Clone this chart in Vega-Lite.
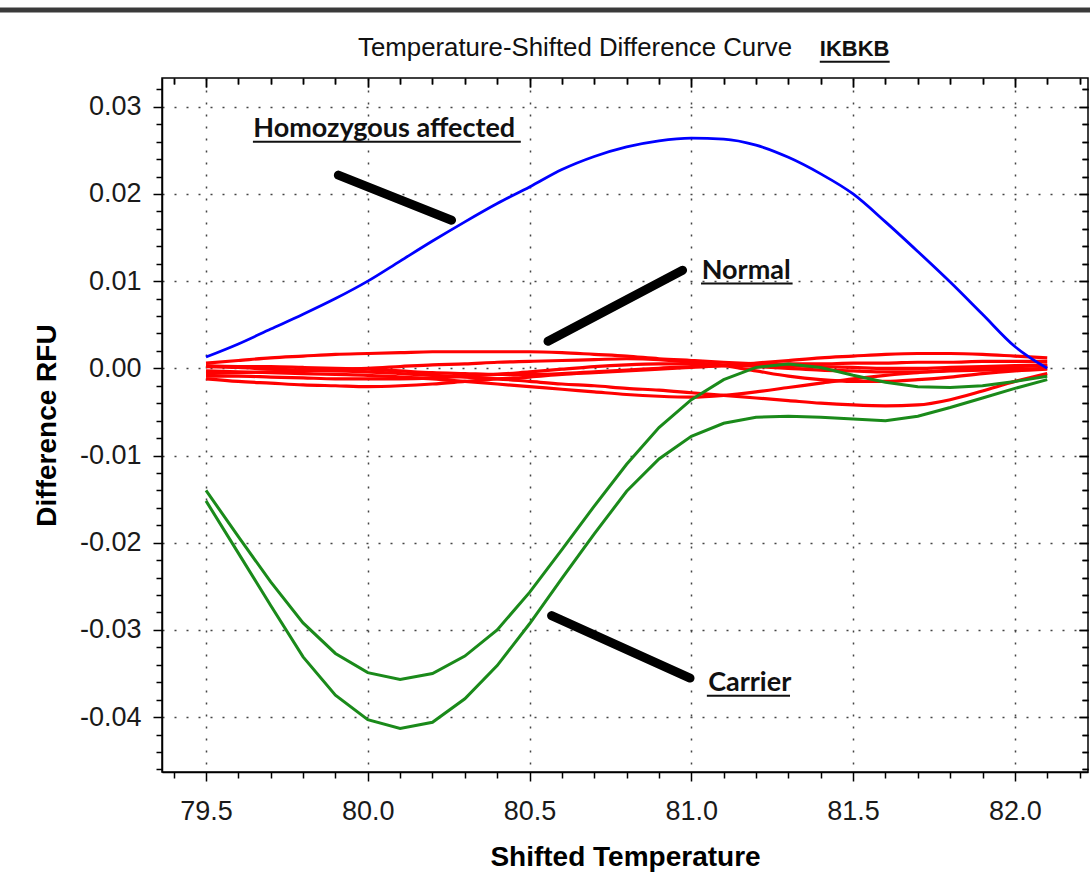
{
  "$schema": "https://vega.github.io/schema/vega-lite/v6.json",
  "width": 926,
  "height": 694,
  "autosize": {"type": "none"},
  "padding": {"left": 162, "top": 78, "right": 2, "bottom": 102},
  "background": "white",
  "config": {"view": {"stroke": "black", "strokeWidth": 1.5}},
  "datasets": {
    "curves": [
      {"s":"H","g":"Homozygous","t":79.5,"v":0.0013},{"s":"H","g":"Homozygous","t":79.6,"v":0.0028},{"s":"H","g":"Homozygous","t":79.7,"v":0.0045},{"s":"H","g":"Homozygous","t":79.8,"v":0.0062},{"s":"H","g":"Homozygous","t":79.9,"v":0.0080},{"s":"H","g":"Homozygous","t":80.0,"v":0.0100},{"s":"H","g":"Homozygous","t":80.1,"v":0.0123},{"s":"H","g":"Homozygous","t":80.2,"v":0.0146},{"s":"H","g":"Homozygous","t":80.3,"v":0.0168},{"s":"H","g":"Homozygous","t":80.4,"v":0.0189},{"s":"H","g":"Homozygous","t":80.5,"v":0.0208},{"s":"H","g":"Homozygous","t":80.6,"v":0.0228},{"s":"H","g":"Homozygous","t":80.7,"v":0.0243},{"s":"H","g":"Homozygous","t":80.8,"v":0.0254},{"s":"H","g":"Homozygous","t":80.9,"v":0.0261},{"s":"H","g":"Homozygous","t":81.0,"v":0.0264},{"s":"H","g":"Homozygous","t":81.1,"v":0.0263},{"s":"H","g":"Homozygous","t":81.2,"v":0.0256},{"s":"H","g":"Homozygous","t":81.3,"v":0.0242},{"s":"H","g":"Homozygous","t":81.4,"v":0.0223},{"s":"H","g":"Homozygous","t":81.5,"v":0.0200},{"s":"H","g":"Homozygous","t":81.6,"v":0.0168},{"s":"H","g":"Homozygous","t":81.7,"v":0.0134},{"s":"H","g":"Homozygous","t":81.8,"v":0.0099},{"s":"H","g":"Homozygous","t":81.9,"v":0.0062},{"s":"H","g":"Homozygous","t":82.0,"v":0.0025},{"s":"H","g":"Homozygous","t":82.1,"v":0.0000},

      {"s":"G1","g":"Carrier","t":79.5,"v":-0.0140},{"s":"G1","g":"Carrier","t":79.6,"v":-0.0193},{"s":"G1","g":"Carrier","t":79.7,"v":-0.0245},{"s":"G1","g":"Carrier","t":79.8,"v":-0.0292},{"s":"G1","g":"Carrier","t":79.9,"v":-0.0327},{"s":"G1","g":"Carrier","t":80.0,"v":-0.0349},{"s":"G1","g":"Carrier","t":80.1,"v":-0.0357},{"s":"G1","g":"Carrier","t":80.2,"v":-0.0350},{"s":"G1","g":"Carrier","t":80.3,"v":-0.0330},{"s":"G1","g":"Carrier","t":80.4,"v":-0.0300},{"s":"G1","g":"Carrier","t":80.5,"v":-0.0257},{"s":"G1","g":"Carrier","t":80.6,"v":-0.0208},{"s":"G1","g":"Carrier","t":80.7,"v":-0.0158},{"s":"G1","g":"Carrier","t":80.8,"v":-0.0110},{"s":"G1","g":"Carrier","t":80.9,"v":-0.0068},{"s":"G1","g":"Carrier","t":81.0,"v":-0.0036},{"s":"G1","g":"Carrier","t":81.1,"v":-0.0013},{"s":"G1","g":"Carrier","t":81.2,"v":0.0001},{"s":"G1","g":"Carrier","t":81.3,"v":0.0005},{"s":"G1","g":"Carrier","t":81.4,"v":0.0001},{"s":"G1","g":"Carrier","t":81.5,"v":-0.0008},{"s":"G1","g":"Carrier","t":81.6,"v":-0.0016},{"s":"G1","g":"Carrier","t":81.7,"v":-0.0021},{"s":"G1","g":"Carrier","t":81.8,"v":-0.0022},{"s":"G1","g":"Carrier","t":81.9,"v":-0.0020},{"s":"G1","g":"Carrier","t":82.0,"v":-0.0015},{"s":"G1","g":"Carrier","t":82.1,"v":-0.0009},

      {"s":"G2","g":"Carrier","t":79.5,"v":-0.0152},{"s":"G2","g":"Carrier","t":79.6,"v":-0.0212},{"s":"G2","g":"Carrier","t":79.7,"v":-0.0272},{"s":"G2","g":"Carrier","t":79.8,"v":-0.0331},{"s":"G2","g":"Carrier","t":79.9,"v":-0.0375},{"s":"G2","g":"Carrier","t":80.0,"v":-0.0403},{"s":"G2","g":"Carrier","t":80.1,"v":-0.0413},{"s":"G2","g":"Carrier","t":80.2,"v":-0.0406},{"s":"G2","g":"Carrier","t":80.3,"v":-0.0379},{"s":"G2","g":"Carrier","t":80.4,"v":-0.0341},{"s":"G2","g":"Carrier","t":80.5,"v":-0.0293},{"s":"G2","g":"Carrier","t":80.6,"v":-0.0241},{"s":"G2","g":"Carrier","t":80.7,"v":-0.0190},{"s":"G2","g":"Carrier","t":80.8,"v":-0.0141},{"s":"G2","g":"Carrier","t":80.9,"v":-0.0104},{"s":"G2","g":"Carrier","t":81.0,"v":-0.0078},{"s":"G2","g":"Carrier","t":81.1,"v":-0.0063},{"s":"G2","g":"Carrier","t":81.2,"v":-0.0056},{"s":"G2","g":"Carrier","t":81.3,"v":-0.0055},{"s":"G2","g":"Carrier","t":81.4,"v":-0.0056},{"s":"G2","g":"Carrier","t":81.5,"v":-0.0058},{"s":"G2","g":"Carrier","t":81.6,"v":-0.0060},{"s":"G2","g":"Carrier","t":81.7,"v":-0.0055},{"s":"G2","g":"Carrier","t":81.8,"v":-0.0045},{"s":"G2","g":"Carrier","t":81.9,"v":-0.0034},{"s":"G2","g":"Carrier","t":82.0,"v":-0.0023},{"s":"G2","g":"Carrier","t":82.1,"v":-0.0013},

      {"s":"R1","g":"Normal","t":79.5,"v":0.0006},{"s":"R1","g":"Normal","t":79.6,"v":0.0009},{"s":"R1","g":"Normal","t":79.7,"v":0.0012},{"s":"R1","g":"Normal","t":79.8,"v":0.0014},{"s":"R1","g":"Normal","t":79.9,"v":0.0016},{"s":"R1","g":"Normal","t":80.0,"v":0.0017},{"s":"R1","g":"Normal","t":80.1,"v":0.0018},{"s":"R1","g":"Normal","t":80.2,"v":0.0019},{"s":"R1","g":"Normal","t":80.3,"v":0.0019},{"s":"R1","g":"Normal","t":80.4,"v":0.0019},{"s":"R1","g":"Normal","t":80.5,"v":0.0019},{"s":"R1","g":"Normal","t":80.6,"v":0.0018},{"s":"R1","g":"Normal","t":80.7,"v":0.0016},{"s":"R1","g":"Normal","t":80.8,"v":0.0014},{"s":"R1","g":"Normal","t":80.9,"v":0.0011},{"s":"R1","g":"Normal","t":81.0,"v":0.0009},{"s":"R1","g":"Normal","t":81.1,"v":0.0007},{"s":"R1","g":"Normal","t":81.2,"v":0.0005},{"s":"R1","g":"Normal","t":81.3,"v":0.0003},{"s":"R1","g":"Normal","t":81.4,"v":0.0002},{"s":"R1","g":"Normal","t":81.5,"v":0.0001},{"s":"R1","g":"Normal","t":81.6,"v":0.0000},{"s":"R1","g":"Normal","t":81.7,"v":0.0000},{"s":"R1","g":"Normal","t":81.8,"v":0.0001},{"s":"R1","g":"Normal","t":81.9,"v":0.0002},{"s":"R1","g":"Normal","t":82.0,"v":0.0003},{"s":"R1","g":"Normal","t":82.1,"v":0.0004},

      {"s":"R2","g":"Normal","t":79.5,"v":-0.0003},{"s":"R2","g":"Normal","t":79.6,"v":-0.0004},{"s":"R2","g":"Normal","t":79.7,"v":-0.0005},{"s":"R2","g":"Normal","t":79.8,"v":-0.0006},{"s":"R2","g":"Normal","t":79.9,"v":-0.0007},{"s":"R2","g":"Normal","t":80.0,"v":-0.0008},{"s":"R2","g":"Normal","t":80.1,"v":-0.0010},{"s":"R2","g":"Normal","t":80.2,"v":-0.0012},{"s":"R2","g":"Normal","t":80.3,"v":-0.0015},{"s":"R2","g":"Normal","t":80.4,"v":-0.0018},{"s":"R2","g":"Normal","t":80.5,"v":-0.0021},{"s":"R2","g":"Normal","t":80.6,"v":-0.0024},{"s":"R2","g":"Normal","t":80.7,"v":-0.0027},{"s":"R2","g":"Normal","t":80.8,"v":-0.0030},{"s":"R2","g":"Normal","t":80.9,"v":-0.0032},{"s":"R2","g":"Normal","t":81.0,"v":-0.0033},{"s":"R2","g":"Normal","t":81.1,"v":-0.0031},{"s":"R2","g":"Normal","t":81.2,"v":-0.0027},{"s":"R2","g":"Normal","t":81.3,"v":-0.0022},{"s":"R2","g":"Normal","t":81.4,"v":-0.0017},{"s":"R2","g":"Normal","t":81.5,"v":-0.0012},{"s":"R2","g":"Normal","t":81.6,"v":-0.0008},{"s":"R2","g":"Normal","t":81.7,"v":-0.0005},{"s":"R2","g":"Normal","t":81.8,"v":-0.0002},{"s":"R2","g":"Normal","t":81.9,"v":0.0000},{"s":"R2","g":"Normal","t":82.0,"v":0.0002},{"s":"R2","g":"Normal","t":82.1,"v":0.0003},

      {"s":"R3","g":"Normal","t":79.5,"v":-0.0012},{"s":"R3","g":"Normal","t":79.6,"v":-0.0015},{"s":"R3","g":"Normal","t":79.7,"v":-0.0017},{"s":"R3","g":"Normal","t":79.8,"v":-0.0019},{"s":"R3","g":"Normal","t":79.9,"v":-0.0020},{"s":"R3","g":"Normal","t":80.0,"v":-0.0021},{"s":"R3","g":"Normal","t":80.1,"v":-0.0020},{"s":"R3","g":"Normal","t":80.2,"v":-0.0018},{"s":"R3","g":"Normal","t":80.3,"v":-0.0015},{"s":"R3","g":"Normal","t":80.4,"v":-0.0012},{"s":"R3","g":"Normal","t":80.5,"v":-0.0010},{"s":"R3","g":"Normal","t":80.6,"v":-0.0007},{"s":"R3","g":"Normal","t":80.7,"v":-0.0005},{"s":"R3","g":"Normal","t":80.8,"v":-0.0003},{"s":"R3","g":"Normal","t":80.9,"v":-0.0001},{"s":"R3","g":"Normal","t":81.0,"v":0.0001},{"s":"R3","g":"Normal","t":81.1,"v":0.0003},{"s":"R3","g":"Normal","t":81.2,"v":0.0006},{"s":"R3","g":"Normal","t":81.3,"v":0.0009},{"s":"R3","g":"Normal","t":81.4,"v":0.0012},{"s":"R3","g":"Normal","t":81.5,"v":0.0014},{"s":"R3","g":"Normal","t":81.6,"v":0.0016},{"s":"R3","g":"Normal","t":81.7,"v":0.0017},{"s":"R3","g":"Normal","t":81.8,"v":0.0017},{"s":"R3","g":"Normal","t":81.9,"v":0.0016},{"s":"R3","g":"Normal","t":82.0,"v":0.0014},{"s":"R3","g":"Normal","t":82.1,"v":0.0012},

      {"s":"R4","g":"Normal","t":79.5,"v":0.0002},{"s":"R4","g":"Normal","t":79.6,"v":0.0001},{"s":"R4","g":"Normal","t":79.7,"v":-0.0001},{"s":"R4","g":"Normal","t":79.8,"v":-0.0002},{"s":"R4","g":"Normal","t":79.9,"v":-0.0003},{"s":"R4","g":"Normal","t":80.0,"v":-0.0004},{"s":"R4","g":"Normal","t":80.1,"v":-0.0006},{"s":"R4","g":"Normal","t":80.2,"v":-0.0008},{"s":"R4","g":"Normal","t":80.3,"v":-0.0010},{"s":"R4","g":"Normal","t":80.4,"v":-0.0012},{"s":"R4","g":"Normal","t":80.5,"v":-0.0015},{"s":"R4","g":"Normal","t":80.6,"v":-0.0018},{"s":"R4","g":"Normal","t":80.7,"v":-0.0020},{"s":"R4","g":"Normal","t":80.8,"v":-0.0023},{"s":"R4","g":"Normal","t":80.9,"v":-0.0025},{"s":"R4","g":"Normal","t":81.0,"v":-0.0028},{"s":"R4","g":"Normal","t":81.1,"v":-0.0031},{"s":"R4","g":"Normal","t":81.2,"v":-0.0034},{"s":"R4","g":"Normal","t":81.3,"v":-0.0037},{"s":"R4","g":"Normal","t":81.4,"v":-0.0040},{"s":"R4","g":"Normal","t":81.5,"v":-0.0042},{"s":"R4","g":"Normal","t":81.6,"v":-0.0043},{"s":"R4","g":"Normal","t":81.7,"v":-0.0042},{"s":"R4","g":"Normal","t":81.8,"v":-0.0036},{"s":"R4","g":"Normal","t":81.9,"v":-0.0026},{"s":"R4","g":"Normal","t":82.0,"v":-0.0015},{"s":"R4","g":"Normal","t":82.1,"v":-0.0006},

      {"s":"R5","g":"Normal","t":79.5,"v":-0.0006},{"s":"R5","g":"Normal","t":79.6,"v":-0.0005},{"s":"R5","g":"Normal","t":79.7,"v":-0.0004},{"s":"R5","g":"Normal","t":79.8,"v":-0.0003},{"s":"R5","g":"Normal","t":79.9,"v":-0.0001},{"s":"R5","g":"Normal","t":80.0,"v":0.0000},{"s":"R5","g":"Normal","t":80.1,"v":0.0002},{"s":"R5","g":"Normal","t":80.2,"v":0.0004},{"s":"R5","g":"Normal","t":80.3,"v":0.0005},{"s":"R5","g":"Normal","t":80.4,"v":0.0007},{"s":"R5","g":"Normal","t":80.5,"v":0.0008},{"s":"R5","g":"Normal","t":80.6,"v":0.0009},{"s":"R5","g":"Normal","t":80.7,"v":0.0010},{"s":"R5","g":"Normal","t":80.8,"v":0.0011},{"s":"R5","g":"Normal","t":80.9,"v":0.0010},{"s":"R5","g":"Normal","t":81.0,"v":0.0007},{"s":"R5","g":"Normal","t":81.1,"v":0.0003},{"s":"R5","g":"Normal","t":81.2,"v":-0.0003},{"s":"R5","g":"Normal","t":81.3,"v":-0.0009},{"s":"R5","g":"Normal","t":81.4,"v":-0.0013},{"s":"R5","g":"Normal","t":81.5,"v":-0.0015},{"s":"R5","g":"Normal","t":81.6,"v":-0.0015},{"s":"R5","g":"Normal","t":81.7,"v":-0.0013},{"s":"R5","g":"Normal","t":81.8,"v":-0.0010},{"s":"R5","g":"Normal","t":81.9,"v":-0.0006},{"s":"R5","g":"Normal","t":82.0,"v":-0.0003},{"s":"R5","g":"Normal","t":82.1,"v":-0.0001},

      {"s":"R6","g":"Normal","t":79.5,"v":0.0003},{"s":"R6","g":"Normal","t":79.6,"v":0.0002},{"s":"R6","g":"Normal","t":79.7,"v":0.0002},{"s":"R6","g":"Normal","t":79.8,"v":0.0001},{"s":"R6","g":"Normal","t":79.9,"v":0.0000},{"s":"R6","g":"Normal","t":80.0,"v":-0.0001},{"s":"R6","g":"Normal","t":80.1,"v":-0.0003},{"s":"R6","g":"Normal","t":80.2,"v":-0.0005},{"s":"R6","g":"Normal","t":80.3,"v":-0.0006},{"s":"R6","g":"Normal","t":80.4,"v":-0.0007},{"s":"R6","g":"Normal","t":80.5,"v":-0.0007},{"s":"R6","g":"Normal","t":80.6,"v":-0.0006},{"s":"R6","g":"Normal","t":80.7,"v":-0.0004},{"s":"R6","g":"Normal","t":80.8,"v":-0.0002},{"s":"R6","g":"Normal","t":80.9,"v":0.0000},{"s":"R6","g":"Normal","t":81.0,"v":0.0002},{"s":"R6","g":"Normal","t":81.1,"v":0.0003},{"s":"R6","g":"Normal","t":81.2,"v":0.0004},{"s":"R6","g":"Normal","t":81.3,"v":0.0005},{"s":"R6","g":"Normal","t":81.4,"v":0.0005},{"s":"R6","g":"Normal","t":81.5,"v":0.0006},{"s":"R6","g":"Normal","t":81.6,"v":0.0006},{"s":"R6","g":"Normal","t":81.7,"v":0.0007},{"s":"R6","g":"Normal","t":81.8,"v":0.0007},{"s":"R6","g":"Normal","t":81.9,"v":0.0008},{"s":"R6","g":"Normal","t":82.0,"v":0.0008},{"s":"R6","g":"Normal","t":82.1,"v":0.0008},

      {"s":"R7","g":"Normal","t":79.5,"v":-0.0009},{"s":"R7","g":"Normal","t":79.6,"v":-0.0009},{"s":"R7","g":"Normal","t":79.7,"v":-0.0010},{"s":"R7","g":"Normal","t":79.8,"v":-0.0011},{"s":"R7","g":"Normal","t":79.9,"v":-0.0012},{"s":"R7","g":"Normal","t":80.0,"v":-0.0012},{"s":"R7","g":"Normal","t":80.1,"v":-0.0012},{"s":"R7","g":"Normal","t":80.2,"v":-0.0011},{"s":"R7","g":"Normal","t":80.3,"v":-0.0009},{"s":"R7","g":"Normal","t":80.4,"v":-0.0007},{"s":"R7","g":"Normal","t":80.5,"v":-0.0004},{"s":"R7","g":"Normal","t":80.6,"v":-0.0001},{"s":"R7","g":"Normal","t":80.7,"v":0.0002},{"s":"R7","g":"Normal","t":80.8,"v":0.0004},{"s":"R7","g":"Normal","t":80.9,"v":0.0005},{"s":"R7","g":"Normal","t":81.0,"v":0.0005},{"s":"R7","g":"Normal","t":81.1,"v":0.0004},{"s":"R7","g":"Normal","t":81.2,"v":0.0002},{"s":"R7","g":"Normal","t":81.3,"v":0.0000},{"s":"R7","g":"Normal","t":81.4,"v":-0.0002},{"s":"R7","g":"Normal","t":81.5,"v":-0.0003},{"s":"R7","g":"Normal","t":81.6,"v":-0.0004},{"s":"R7","g":"Normal","t":81.7,"v":-0.0004},{"s":"R7","g":"Normal","t":81.8,"v":-0.0003},{"s":"R7","g":"Normal","t":81.9,"v":-0.0002},{"s":"R7","g":"Normal","t":82.0,"v":-0.0001},{"s":"R7","g":"Normal","t":82.1,"v":0.0000}
    ],
    "pointers": [
      {"t":79.909,"v":0.02216,"t2":80.259,"v2":0.01699},
      {"t":80.557,"v":0.0031,"t2":80.973,"v2":0.01125},
      {"t":80.568,"v":-0.02836,"t2":80.996,"v2":-0.03553}
    ],
    "labels": [
      {"label":"Homozygous affected","t":79.646,"v":0.02649},
      {"label":"Normal","t":81.032,"v":0.0103},
      {"label":"Carrier","t":81.052,"v":-0.0370}
    ],
    "underlines": [
      {"t":79.645,"v":0.02598,"t2":80.473},
      {"t":81.03,"v":0.00972,"t2":81.313},
      {"t":81.048,"v":-0.03754,"t2":81.305},
      {"t":81.397,"v":0.03517,"t2":81.613}
    ],
    "heading": [
      {"label":"Temperature-Shifted Difference Curve","t":79.970,"v":0.03582}
    ],
    "gene": [
      {"label":"IKBKB","t":81.397,"v":0.03582}
    ],
    "frame": [
      {"t":78.86,"v":0.0411,"t2":82.24}
    ]
  },
  "resolve": {"axis": {"x": "independent", "y": "independent"}},
  "layer": [
    {
      "data": {"name": "curves"},
      "transform": [{"filter": "datum.g == 'Normal'"}],
      "mark": {"type": "line", "color": "#ff0000", "strokeWidth": 3.2, "interpolate": "monotone", "clip": true},
      "encoding": {
        "x": {"field": "t", "type": "quantitative", "scale": {"domain": [79.364, 82.226], "nice": false, "zero": false},
          "axis": {
            "title": "Shifted Temperature",
            "values": [79.4,79.5,79.6,79.7,79.8,79.9,80.0,80.1,80.2,80.3,80.4,80.5,80.6,80.7,80.8,80.9,81.0,81.1,81.2,81.3,81.4,81.5,81.6,81.7,81.8,81.9,82.0,82.1,82.2],
            "labelExpr": "abs(datum.value*2-round(datum.value*2))<0.01 ? format(datum.value,'.1f') : ''",
            "tickSize": {"condition": {"test": "abs(datum.value*2-round(datum.value*2))<0.01", "value": 9}, "value": 6},
            "grid": true,
            "gridOpacity": {"condition": {"test": "abs(datum.value*2-round(datum.value*2))<0.01", "value": 1}, "value": 0},
            "gridDash": [2, 10], "gridColor": "#444444", "gridWidth": 1.5,
            "domainColor": "black", "domainWidth": 1.5, "tickColor": "black", "tickWidth": 1.5,
            "labelFont": "Liberation Sans", "labelFontSize": 27, "labelColor": "#1a1a1a", "labelPadding": 17, "labelFlush": false, "labelOverlap": false,
            "titleFont": "Liberation Sans", "titleFontSize": 28, "titleFontWeight": "bold", "titleColor": "black", "titlePadding": 19
          }},
        "y": {"field": "v", "type": "quantitative", "scale": {"domain": [-0.0463, 0.0333], "nice": false, "zero": false},
          "axis": {
            "title": "Difference RFU",
            "values": [-0.046,-0.044,-0.042,-0.04,-0.038,-0.036,-0.034,-0.032,-0.03,-0.028,-0.026,-0.024,-0.022,-0.02,-0.018,-0.016,-0.014,-0.012,-0.01,-0.008,-0.006,-0.004,-0.002,0,0.002,0.004,0.006,0.008,0.01,0.012,0.014,0.016,0.018,0.02,0.022,0.024,0.026,0.028,0.03,0.032],
            "labelExpr": "abs(datum.value*100-round(datum.value*100))<0.01 ? replace(format(datum.value,'.2f'),'\u2212','-') : ''",
            "tickSize": {"condition": {"test": "abs(datum.value*100-round(datum.value*100))<0.01", "value": 9}, "value": 6},
            "grid": true,
            "gridOpacity": {"condition": {"test": "abs(datum.value*100-round(datum.value*100))<0.01", "value": 1}, "value": 0},
            "gridDash": [2, 10], "gridColor": "#444444", "gridWidth": 1.5,
            "domainColor": "black", "domainWidth": 1.5, "tickColor": "black", "tickWidth": 1.5,
            "labelFont": "Liberation Sans", "labelFontSize": 27, "labelColor": "#1a1a1a", "labelPadding": 12, "labelFlush": false, "labelOverlap": false,
            "titleFont": "Liberation Sans", "titleFontSize": 28, "titleFontWeight": "bold", "titleColor": "black", "titlePadding": 18
          }},
        "detail": {"field": "s", "type": "nominal"}
      }
    },
    {
      "data": {"name": "curves"},
      "transform": [{"filter": "datum.g == 'Carrier'"}],
      "mark": {"type": "line", "color": "#1a8a1a", "strokeWidth": 3, "clip": true},
      "encoding": {
        "x": {"field": "t", "type": "quantitative", "scale": {"domain": [79.364, 82.226], "nice": false, "zero": false},
          "axis": {
            "title": null, "labels": false, "domain": false, "grid": false,
            "values": [79.4,79.5,79.6,79.7,79.8,79.9,80.0,80.1,80.2,80.3,80.4,80.5,80.6,80.7,80.8,80.9,81.0,81.1,81.2,81.3,81.4,81.5,81.6,81.7,81.8,81.9,82.0,82.1,82.2],
            "tickSize": {"condition": {"test": "abs(datum.value*2-round(datum.value*2))<0.01", "value": -9}, "value": -6},
            "tickColor": "black", "tickWidth": 1.5
          }},
        "y": {"field": "v", "type": "quantitative", "scale": {"domain": [-0.0463, 0.0333], "nice": false, "zero": false},
          "axis": {
            "title": null, "labels": false, "domain": false, "grid": false,
            "values": [-0.046,-0.044,-0.042,-0.04,-0.038,-0.036,-0.034,-0.032,-0.03,-0.028,-0.026,-0.024,-0.022,-0.02,-0.018,-0.016,-0.014,-0.012,-0.01,-0.008,-0.006,-0.004,-0.002,0,0.002,0.004,0.006,0.008,0.01,0.012,0.014,0.016,0.018,0.02,0.022,0.024,0.026,0.028,0.03,0.032],
            "tickSize": {"condition": {"test": "abs(datum.value*100-round(datum.value*100))<0.01", "value": -9}, "value": -6},
            "tickColor": "black", "tickWidth": 1.5
          }},
        "detail": {"field": "s", "type": "nominal"}
      }
    },
    {
      "data": {"name": "curves"},
      "transform": [{"filter": "datum.g == 'Homozygous'"}],
      "mark": {"type": "line", "color": "#0000ff", "strokeWidth": 2.8, "interpolate": "monotone", "clip": true},
      "encoding": {
        "x": {"field": "t", "type": "quantitative", "scale": {"domain": [79.364, 82.226], "nice": false, "zero": false},
          "axis": {
            "orient": "top", "title": null, "labels": false, "domain": false, "grid": false,
            "values": [79.4,79.5,79.6,79.7,79.8,79.9,80.0,80.1,80.2,80.3,80.4,80.5,80.6,80.7,80.8,80.9,81.0,81.1,81.2,81.3,81.4,81.5,81.6,81.7,81.8,81.9,82.0,82.1,82.2],
            "tickSize": {"condition": {"test": "abs(datum.value*2-round(datum.value*2))<0.01", "value": -9}, "value": -6},
            "tickColor": "black", "tickWidth": 1.5
          }},
        "y": {"field": "v", "type": "quantitative", "scale": {"domain": [-0.0463, 0.0333], "nice": false, "zero": false},
          "axis": {
            "orient": "right", "title": null, "labels": false, "domain": false, "grid": false,
            "values": [-0.046,-0.044,-0.042,-0.04,-0.038,-0.036,-0.034,-0.032,-0.03,-0.028,-0.026,-0.024,-0.022,-0.02,-0.018,-0.016,-0.014,-0.012,-0.01,-0.008,-0.006,-0.004,-0.002,0,0.002,0.004,0.006,0.008,0.01,0.012,0.014,0.016,0.018,0.02,0.022,0.024,0.026,0.028,0.03,0.032],
            "tickSize": {"condition": {"test": "abs(datum.value*100-round(datum.value*100))<0.01", "value": -9}, "value": -6},
            "tickColor": "black", "tickWidth": 1.5
          }},
        "detail": {"field": "s", "type": "nominal"}
      }
    },
    {
      "data": {"name": "pointers"},
      "mark": {"type": "rule", "color": "black", "strokeWidth": 9, "strokeCap": "round", "clip": false},
      "encoding": {
        "x": {"field": "t", "type": "quantitative", "scale": {"domain": [79.364, 82.226], "nice": false, "zero": false}, "axis": null},
        "y": {"field": "v", "type": "quantitative", "scale": {"domain": [-0.0463, 0.0333], "nice": false, "zero": false}, "axis": null},
        "x2": {"field": "t2"},
        "y2": {"field": "v2"}
      }
    },
    {
      "data": {"name": "underlines"},
      "mark": {"type": "rule", "color": "#111111", "strokeWidth": 2, "clip": false},
      "encoding": {
        "x": {"field": "t", "type": "quantitative", "scale": {"domain": [79.364, 82.226], "nice": false, "zero": false}, "axis": null},
        "y": {"field": "v", "type": "quantitative", "scale": {"domain": [-0.0463, 0.0333], "nice": false, "zero": false}, "axis": null},
        "x2": {"field": "t2"}
      }
    },
    {
      "data": {"name": "frame"},
      "mark": {"type": "rule", "color": "#3a3a3a", "strokeWidth": 5, "clip": false},
      "encoding": {
        "x": {"field": "t", "type": "quantitative", "scale": {"domain": [79.364, 82.226], "nice": false, "zero": false}, "axis": null},
        "y": {"field": "v", "type": "quantitative", "scale": {"domain": [-0.0463, 0.0333], "nice": false, "zero": false}, "axis": null},
        "x2": {"field": "t2"}
      }
    },
    {
      "data": {"name": "labels"},
      "mark": {"type": "text", "align": "left", "baseline": "alphabetic", "font": "Lato", "fontSize": 27, "fontWeight": "bold", "color": "#111111", "clip": false},
      "encoding": {
        "x": {"field": "t", "type": "quantitative", "scale": {"domain": [79.364, 82.226], "nice": false, "zero": false}, "axis": null},
        "y": {"field": "v", "type": "quantitative", "scale": {"domain": [-0.0463, 0.0333], "nice": false, "zero": false}, "axis": null},
        "text": {"field": "label"}
      }
    },
    {
      "data": {"name": "heading"},
      "mark": {"type": "text", "align": "left", "baseline": "alphabetic", "font": "Liberation Sans", "fontSize": 25.8, "fontWeight": "normal", "color": "#111111", "clip": false},
      "encoding": {
        "x": {"field": "t", "type": "quantitative", "scale": {"domain": [79.364, 82.226], "nice": false, "zero": false}, "axis": null},
        "y": {"field": "v", "type": "quantitative", "scale": {"domain": [-0.0463, 0.0333], "nice": false, "zero": false}, "axis": null},
        "text": {"field": "label"}
      }
    },
    {
      "data": {"name": "gene"},
      "mark": {"type": "text", "align": "left", "baseline": "alphabetic", "font": "Liberation Sans", "fontSize": 22, "fontWeight": "bold", "color": "#111111", "clip": false},
      "encoding": {
        "x": {"field": "t", "type": "quantitative", "scale": {"domain": [79.364, 82.226], "nice": false, "zero": false}, "axis": null},
        "y": {"field": "v", "type": "quantitative", "scale": {"domain": [-0.0463, 0.0333], "nice": false, "zero": false}, "axis": null},
        "text": {"field": "label"}
      }
    }
  ]
}
